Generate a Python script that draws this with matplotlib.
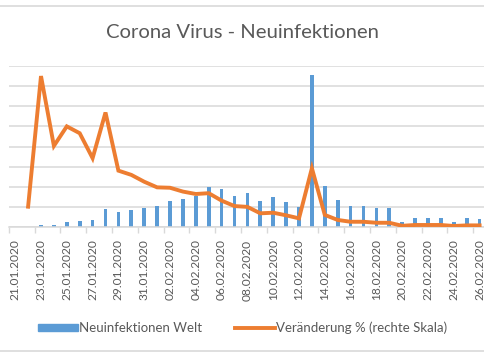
import matplotlib.pyplot as plt
import matplotlib.lines as mlines
import numpy as np
import pandas as pd

# Neuinfektionen Welt pro Tag (linke Skala)
datum = pd.date_range("2020-01-21", "2020-02-26").strftime("%d.%m.%Y").tolist()
neuinfektionen = [0, 0, 200, 200, 470, 630, 700, 1770, 1470, 1670, 1930,
                  2100, 2600, 2830, 3130, 3930, 3730, 3130, 3400, 2630, 3000,
                  2470, 2000, 15120, 4030, 2670, 2100, 2100, 1870, 1870, 470,
                  930, 930, 930, 470, 870, 800]
# Veränderung in % (rechte Skala), beginnt am 22.01.
veraenderung = [10.1, 75, 40.3, 50, 46.6, 34.2, 56.9, 28, 25.9, 22.5, 19.7,
                19.5, 17.6, 16.4, 16.8, 13.1, 10.4, 10.0, 6.8, 7.1, 5.8, 4.3,
                29.2, 6.0, 3.5, 2.6, 2.6, 2.1, 2.1, 0.6, 1.0, 1.0, 1.0, 0.5,
                0.8, 0.8]

blau = "#5B9BD5"
orange = "#ED7D31"
grau = "#595959"
gitter = "#D9D9D9"
plt.rcParams["font.family"] = ["Lato", "DejaVu Sans"]

fig = plt.figure(figsize=(4.85, 3.6), dpi=100)
W, H = 485, 360
ax = fig.add_axes([8.75 / W, (H - 227) / H, 477.3 / W, 161 / H])

x = np.arange(len(datum))
ax.bar(x, neuinfektionen, width=0.28, color=blau, zorder=2)
ax.set_xlim(-0.5, len(datum) - 0.5)
ax.set_ylim(0, 16000)
ax.set_yticks(np.arange(0, 16001, 2000))
ax.grid(axis="y", color=gitter, linewidth=1.1, zorder=0)
for s in ["top", "left", "right"]:
    ax.spines[s].set_visible(False)
ax.spines["bottom"].set_color(gitter)
ax.spines["bottom"].set_linewidth(1.1)

# Striche an den Kategoriegrenzen, Beschriftung jede zweite Kategorie
ax.set_xticks(np.arange(-0.5, len(datum), 2))
ax.set_xticklabels([])
ax.tick_params(axis="x", which="major", length=4, color=gitter, width=1)
ax.set_xticks(x[::2], minor=True)
ax.set_xticklabels(datum[::2], minor=True, rotation=90, fontsize=8.6, color=grau)
ax.tick_params(axis="x", which="minor", length=0, pad=9)

ax2 = ax.twinx()
ax2.plot(x[1:], veraenderung, color=orange, linewidth=2.8, solid_joinstyle="miter")
ax2.set_ylim(0, 80)
ax2.set_axis_off()
# twinx schaltet die linken Ticks wieder ein
ax.tick_params(axis="y", which="both", left=False, right=False,
               labelleft=False, labelright=False)

fig.text(0.5, (H - 33) / H, "Corona Virus - Neuinfektionen", ha="center",
         va="center", fontsize=14.6, color=grau)

patch = plt.Rectangle((0, 0), 1, 1, color=blau)
linie = mlines.Line2D([], [], color=orange, linewidth=2.8)
fig.legend([patch, linie], ["Neuinfektionen Welt", "Veränderung % (rechte Skala)"],
           loc="center", bbox_to_anchor=(0.5, (H - 328) / H), ncol=2, frameon=False,
           fontsize=9.5, labelcolor=grau, handlelength=3.0, handleheight=0.45,
           handletextpad=0.1, columnspacing=2.5)

# graue Rahmenlinien oben und unten
fig.add_artist(mlines.Line2D([0, 1], [(H - 5.5) / H] * 2, color=gitter, linewidth=1.2))
fig.add_artist(mlines.Line2D([0, 1], [(H - 350.5) / H] * 2, color=gitter, linewidth=1.2))

fig.savefig("out.png", dpi=100)
